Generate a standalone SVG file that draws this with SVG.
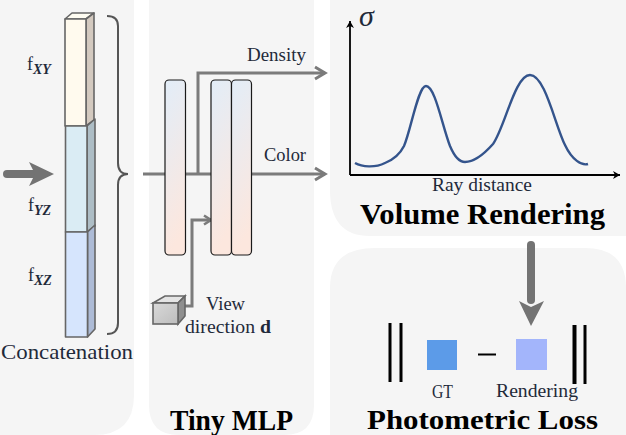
<svg xmlns="http://www.w3.org/2000/svg" width="626" height="435" viewBox="0 0 626 435">
<style>
text{font-family:"Liberation Serif","Times New Roman",serif;fill:#1f2a3a}
.lab{font-size:18px}
.ttl{font-size:29px;font-weight:bold;fill:#000}
.panel{fill:#f5f5f5}
.edge{fill:none;stroke:#7b7b7b;stroke-width:3}
.bar{stroke:#1a1a1a;stroke-width:1.2;fill:url(#g)}
.cell{stroke:#666;stroke-width:1.6;stroke-linejoin:round}
.ink{fill:none;stroke:#000}
</style>
<defs>
<linearGradient id="g" x1="0" y1="0" x2="0.2" y2="1"><stop offset="0" stop-color="#e2edf8"/><stop offset="1" stop-color="#fce7de"/></linearGradient>
<linearGradient id="c" x1="0" y1="0" x2="1" y2="1"><stop offset="0" stop-color="#d9d9d9"/><stop offset="1" stop-color="#bdbdbd"/></linearGradient>
<marker id="open" markerUnits="userSpaceOnUse" markerWidth="16" markerHeight="16" refX="12" refY="8" orient="auto"><path d="M2 2L12 8L2 14" fill="none" stroke="#7b7b7b" stroke-width="3"/></marker>
<marker id="small" markerUnits="userSpaceOnUse" markerWidth="12" markerHeight="12" refX="9" refY="6" orient="auto"><path d="M2 1.5L9 6L2 10.5" fill="none" stroke="#7b7b7b" stroke-width="2.6"/></marker>
<marker id="ax" markerUnits="userSpaceOnUse" markerWidth="10" markerHeight="10" refX="8" refY="5" orient="auto"><path d="M1 1L8 5L1 9L3 5Z" fill="#000"/></marker>
</defs>
<g id="panels">
<path class="panel" d="M0 0H134V395Q134 435 94 435H0Z"/>
<path class="panel" d="M149 0H314V405Q314 435 284 435H179Q149 435 149 405Z"/>
<path class="panel" d="M330 0H626V236H370Q330 236 330 190Z"/>
<path class="panel" d="M330 288Q330 248 375 248H585Q626 248 626 288V435H330Z"/>
</g>
<g id="concat-column">
<path class="cell" d="M65 19L72 13H94L86 19Z" fill="#fffdf2"/>
<path class="cell" d="M86 19L94 13V120L86 126Z" fill="#d3c9bf"/>
<rect class="cell" x="65" y="19" width="21" height="107" fill="#fffaee"/>
<path class="cell" d="M87 126L95 119V226L87 232Z" fill="#adbdc5"/>
<rect class="cell" x="65.500" y="126" width="21.500" height="106" fill="#daecf4"/>
<path class="cell" d="M87.500 232L95 225V329L87.500 337Z" fill="#adbbd6"/>
<rect class="cell" x="65.500" y="232" width="22" height="105" fill="#d6e5fd"/>
<text class="lab" x="27" y="70">f<tspan font-style="italic" font-weight="bold" font-size="14" dy="4">XY</tspan></text>
<text class="lab" x="28" y="211">f<tspan font-style="italic" font-weight="bold" font-size="14" dy="4">YZ</tspan></text>
<text class="lab" x="28" y="281">f<tspan font-style="italic" font-weight="bold" font-size="14" dy="4">XZ</tspan></text>
<text x="1" y="359" font-size="22" textLength="132" lengthAdjust="spacingAndGlyphs">Concatenation</text>
</g>
<g id="connectors">
<path d="M7 174H35" fill="none" stroke="#737373" stroke-width="8" stroke-linecap="round"/>
<path d="M29 162L54 174L29 186L35 174Z" fill="#737373"/>
<path d="M107 16Q118 16 118 26V163Q118 174 128 174Q118 174 118 185V323Q118 334 107 334" fill="none" stroke="#555" stroke-width="2"/>
<path class="edge" d="M143 174H165M185 174H211"/>
<path class="edge" marker-end="url(#open)" d="M198 174V73H325"/>
<path class="edge" marker-end="url(#open)" d="M251 174H325"/>
<path class="edge" marker-end="url(#small)" d="M185 306H192V220H211"/>
<path d="M531 245V300" fill="none" stroke="#737373" stroke-width="8" stroke-linecap="round"/>
<path d="M519 301L531 326L544 301L531 307Z" fill="#737373"/>
</g>
<g id="tiny-mlp">
<rect class="bar" x="165" y="80" width="20.500" height="175" rx="4"/>
<rect class="bar" x="211" y="80" width="20.500" height="175" rx="4"/>
<rect class="bar" x="231.500" y="80" width="20" height="175" rx="4"/>
<text class="lab" x="247" y="61" textLength="59" lengthAdjust="spacingAndGlyphs">Density</text>
<text class="lab" x="264" y="161" textLength="42" lengthAdjust="spacingAndGlyphs">Color</text>
<text class="ttl" x="170" y="430" textLength="123" lengthAdjust="spacingAndGlyphs">Tiny MLP</text>
</g>
<g id="view-direction">
<path d="M153 303L165 296H185L178 303Z" fill="#e4e4e4" stroke="#666" stroke-width="1.600"/>
<path d="M178 303L185 296V316L178 324Z" fill="#8f8f8f" stroke="#666" stroke-width="1.600"/>
<rect x="153" y="303" width="25" height="21" fill="url(#c)" stroke="#666" stroke-width="1.600"/>
<text class="lab" x="206" y="310" textLength="39" lengthAdjust="spacingAndGlyphs">View</text>
<text class="lab" x="185" y="333" textLength="86" lengthAdjust="spacingAndGlyphs">direction <tspan font-weight="bold">d</tspan></text>
</g>
<g id="volume-rendering">
<path class="ink" stroke-width="1.800" marker-end="url(#ax)" d="M350 175V21"/>
<path class="ink" stroke-width="1.800" marker-end="url(#ax)" d="M350 175H620"/>
<path d="M355 163C362 167 375 168 385 163C395 159 400 154 404 146C411 130 418 86 426 86C435 86 442 125 450 146C455 158 460 162 465 162C475 162 485 153 493 144C505 127 515 75 530 75C545 75 555 125 565 145C572 160 582 166 588 164" fill="none" stroke="#34548c" stroke-width="2.400"/>
<text x="359" y="26" font-size="30" font-style="italic" fill="#55606e">σ</text>
<text class="lab" x="432" y="191" textLength="100" lengthAdjust="spacingAndGlyphs">Ray distance</text>
<text class="ttl" x="360" y="224" textLength="245" lengthAdjust="spacingAndGlyphs">Volume Rendering</text>
</g>
<g id="photometric-loss">
<path class="ink" stroke-width="3" d="M390 323V382M401 323V382"/>
<path class="ink" stroke-width="4" d="M574.500 325V384"/>
<path class="ink" stroke-width="3" d="M585 325V384"/>
<rect x="427" y="340" width="30" height="30" fill="#5c9be8"/>
<rect x="516" y="339" width="31" height="31" fill="#a3b5fb"/>
<path class="ink" stroke-width="2" d="M478 354.500H496"/>
<text class="lab" x="432" y="398" textLength="21" lengthAdjust="spacingAndGlyphs">GT</text>
<text class="lab" x="496" y="397" textLength="82" lengthAdjust="spacingAndGlyphs">Rendering</text>
<text class="ttl" x="367" y="429" font-size="28" style="font-size:28px" textLength="231" lengthAdjust="spacingAndGlyphs">Photometric Loss</text>
</g>
</svg>
